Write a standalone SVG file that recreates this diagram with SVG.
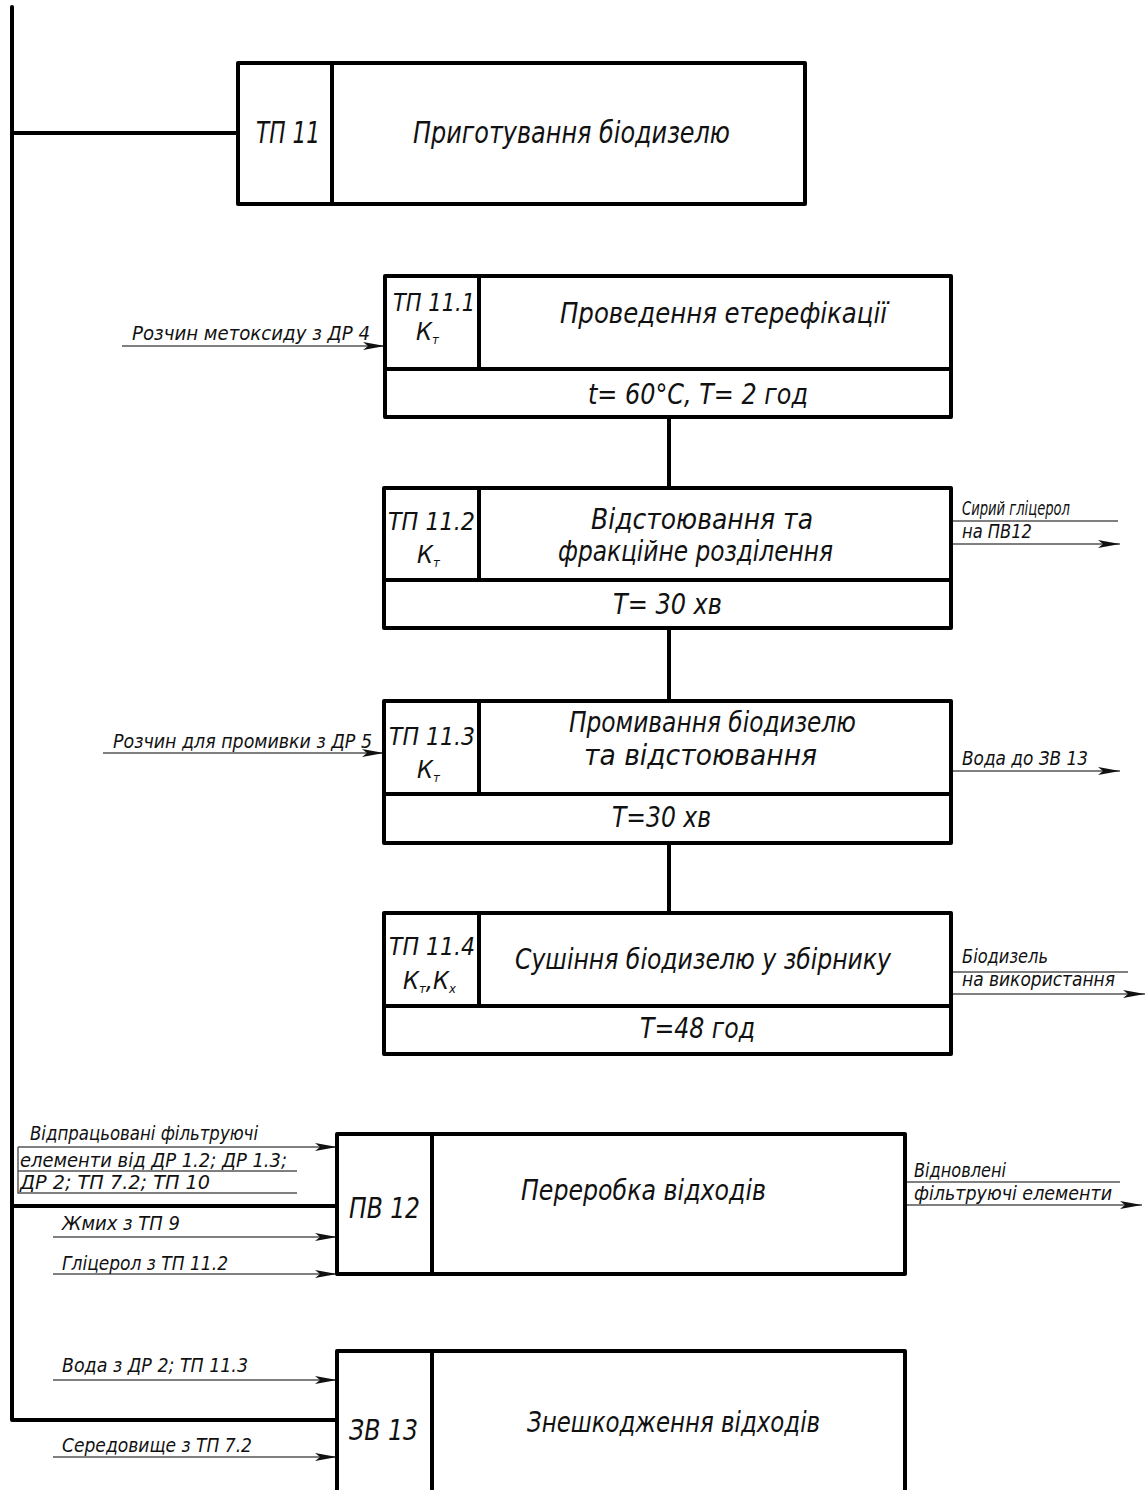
<svg xmlns="http://www.w3.org/2000/svg" width="1148" height="1490" viewBox="0 0 1148 1490">
<style>
.box{fill:none;stroke:#000;stroke-width:4;stroke-linejoin:round}
.thick{fill:none;stroke:#000;stroke-width:4;stroke-linecap:round;stroke-linejoin:round}
.thin{fill:none;stroke:#555;stroke-width:1.4}
.arr{fill:none;stroke:#555;stroke-width:1.4;marker-end:url(#ah)}
text{font-family:"DejaVu Sans Condensed","Liberation Sans Narrow","Liberation Sans",sans-serif;font-style:italic;fill:#111}
.t{font-size:30px}
.c{font-size:29px}
.k{font-size:25px}
.s{font-size:19px}
.m{text-anchor:middle}
</style>
<defs>
<marker id="ah" markerUnits="userSpaceOnUse" markerWidth="26" markerHeight="12" refX="24" refY="6" orient="auto" viewBox="0 0 26 12">
<path d="M24,6 L2,2 L7,6 L2,10 Z" fill="#111"/>
</marker>
</defs>
<g id="connectors">
<path class="thick" d="M12,7 V1420 H337"/>
<line class="thick" x1="12" y1="133" x2="238" y2="133"/>
<line class="thick" x1="12" y1="1206" x2="337" y2="1206"/>
<line class="thick" x1="669" y1="417" x2="669" y2="488"/>
<line class="thick" x1="669" y1="628" x2="669" y2="701"/>
<line class="thick" x1="669" y1="843" x2="669" y2="913"/>
<line class="arr" x1="122" y1="346" x2="385" y2="346"/>
<line class="arr" x1="103" y1="753" x2="384" y2="753"/>
<line class="thin" x1="953" y1="521" x2="1118" y2="521"/>
<line class="arr" x1="953" y1="544" x2="1120" y2="544"/>
<line class="arr" x1="953" y1="771" x2="1120" y2="771"/>
<line class="thin" x1="953" y1="972" x2="1128" y2="972"/>
<line class="arr" x1="953" y1="994" x2="1145" y2="994"/>
<path class="thin" d="M297,1193 H18 V1147"/>
<line class="arr" x1="18" y1="1147" x2="337" y2="1147"/>
<line class="thin" x1="18" y1="1171" x2="297" y2="1171"/>
<line class="arr" x1="53" y1="1237" x2="337" y2="1237"/>
<line class="arr" x1="53" y1="1274" x2="337" y2="1274"/>
<line class="thin" x1="905" y1="1182" x2="1120" y2="1182"/>
<line class="arr" x1="905" y1="1205" x2="1142" y2="1205"/>
<line class="arr" x1="53" y1="1380" x2="337" y2="1380"/>
<line class="arr" x1="53" y1="1457" x2="337" y2="1457"/>
</g>
<g id="tp11">
<rect class="box" x="238" y="63" width="567" height="141"/>
<line class="box" x1="332" y1="63" x2="332" y2="204"/>
<text class="t" x="256" y="143" textLength="64" lengthAdjust="spacingAndGlyphs">ТП 11</text>
<text class="t" x="413" y="143" textLength="317" lengthAdjust="spacingAndGlyphs">Приготування біодизелю</text>
</g>
<g id="tp11_1">
<rect class="box" x="385" y="276" width="566" height="141"/>
<line class="box" x1="385" y1="369" x2="951" y2="369"/>
<line class="box" x1="479" y1="276" x2="479" y2="369"/>
<text class="k" x="393" y="311" textLength="82" lengthAdjust="spacingAndGlyphs">ТП 11.1</text>
<text class="k" x="416" y="340">К<tspan font-size="13" dy="4">т</tspan></text>
<text class="c" x="560" y="323" textLength="327" lengthAdjust="spacingAndGlyphs">Проведення етерефікації</text>
<text class="c" x="588" y="404" textLength="220" lengthAdjust="spacingAndGlyphs">t= 60°C, T= 2 год</text>
<text class="s" x="132" y="340" textLength="238" lengthAdjust="spacingAndGlyphs">Розчин метоксиду з ДР 4</text>
</g>
<g id="tp11_2">
<rect class="box" x="384" y="488" width="567" height="140"/>
<line class="box" x1="384" y1="580" x2="951" y2="580"/>
<line class="box" x1="479" y1="488" x2="479" y2="580"/>
<text class="k" x="388" y="530" textLength="87" lengthAdjust="spacingAndGlyphs">ТП 11.2</text>
<text class="k" x="417" y="563">К<tspan font-size="13" dy="4">т</tspan></text>
<text class="c" x="591" y="529" textLength="222" lengthAdjust="spacingAndGlyphs">Відстоювання та</text>
<text class="c" x="558" y="561" textLength="275" lengthAdjust="spacingAndGlyphs">фракційне розділення</text>
<text class="c" x="613" y="614" textLength="109" lengthAdjust="spacingAndGlyphs">Т= 30 хв</text>
<text class="s" x="962" y="515" textLength="108" lengthAdjust="spacingAndGlyphs">Сирий гліцерол</text>
<text class="s" x="962" y="538" textLength="70" lengthAdjust="spacingAndGlyphs">на ПВ12</text>
</g>
<g id="tp11_3">
<rect class="box" x="384" y="701" width="567" height="142"/>
<line class="box" x1="384" y1="794" x2="951" y2="794"/>
<line class="box" x1="479" y1="701" x2="479" y2="794"/>
<text class="k" x="389" y="745" textLength="86" lengthAdjust="spacingAndGlyphs">ТП 11.3</text>
<text class="k" x="417" y="778">К<tspan font-size="13" dy="4">т</tspan></text>
<text class="c" x="569" y="732" textLength="287" lengthAdjust="spacingAndGlyphs">Промивання біодизелю</text>
<text class="c" x="584" y="765" textLength="233" lengthAdjust="spacingAndGlyphs">та відстоювання</text>
<text class="c" x="612" y="827" textLength="99" lengthAdjust="spacingAndGlyphs">Т=30 хв</text>
<text class="s" x="113" y="748" textLength="259" lengthAdjust="spacingAndGlyphs">Розчин для промивки з ДР 5</text>
<text class="s" x="962" y="765" textLength="126" lengthAdjust="spacingAndGlyphs">Вода до ЗВ 13</text>
</g>
<g id="tp11_4">
<rect class="box" x="384" y="913" width="567" height="141"/>
<line class="box" x1="384" y1="1006" x2="951" y2="1006"/>
<line class="box" x1="479" y1="913" x2="479" y2="1006"/>
<text class="k" x="389" y="955" textLength="86" lengthAdjust="spacingAndGlyphs">ТП 11.4</text>
<text class="k" x="403" y="989">К<tspan font-size="13" dy="4">т</tspan><tspan dy="-4">,К</tspan><tspan font-size="13" dy="4">х</tspan></text>
<text class="c" x="515" y="969" textLength="376" lengthAdjust="spacingAndGlyphs">Сушіння біодизелю у збірнику</text>
<text class="c" x="640" y="1038" textLength="115" lengthAdjust="spacingAndGlyphs">Т=48 год</text>
<text class="s" x="962" y="963" textLength="86" lengthAdjust="spacingAndGlyphs">Біодизель</text>
<text class="s" x="962" y="986" textLength="153" lengthAdjust="spacingAndGlyphs">на використання</text>
</g>
<g id="pv12">
<rect class="box" x="337" y="1134" width="568" height="140"/>
<line class="box" x1="432" y1="1134" x2="432" y2="1274"/>
<text class="c" x="349" y="1218" textLength="71" lengthAdjust="spacingAndGlyphs">ПВ 12</text>
<text class="c" x="521" y="1200" textLength="245" lengthAdjust="spacingAndGlyphs">Переробка відходів</text>
<text class="s" x="30" y="1140" textLength="228" lengthAdjust="spacingAndGlyphs">Відпрацьовані фільтруючі</text>
<text class="s" x="20" y="1167" textLength="267" lengthAdjust="spacingAndGlyphs">елементи від ДР 1.2; ДР 1.3;</text>
<text class="s" x="20" y="1189" textLength="190" lengthAdjust="spacingAndGlyphs">ДР 2; ТП 7.2; ТП 10</text>
<text class="s" x="62" y="1230" textLength="118" lengthAdjust="spacingAndGlyphs">Жмих з ТП 9</text>
<text class="s" x="62" y="1270" textLength="166" lengthAdjust="spacingAndGlyphs">Гліцерол з ТП 11.2</text>
<text class="s" x="914" y="1177" textLength="92" lengthAdjust="spacingAndGlyphs">Відновлені</text>
<text class="s" x="914" y="1200" textLength="198" lengthAdjust="spacingAndGlyphs">фільтруючі елементи</text>
</g>
<g id="zv13">
<path class="box" d="M337,1494 V1351 H905 V1494"/>
<line class="box" x1="432" y1="1351" x2="432" y2="1494"/>
<text class="c" x="349" y="1440" textLength="69" lengthAdjust="spacingAndGlyphs">ЗВ 13</text>
<text class="c" x="527" y="1432" textLength="293" lengthAdjust="spacingAndGlyphs">Знешкодження відходів</text>
<text class="s" x="62" y="1372" textLength="186" lengthAdjust="spacingAndGlyphs">Вода з ДР 2; ТП 11.3</text>
<text class="s" x="62" y="1452" textLength="190" lengthAdjust="spacingAndGlyphs">Середовище з ТП 7.2</text>
</g>
</svg>
